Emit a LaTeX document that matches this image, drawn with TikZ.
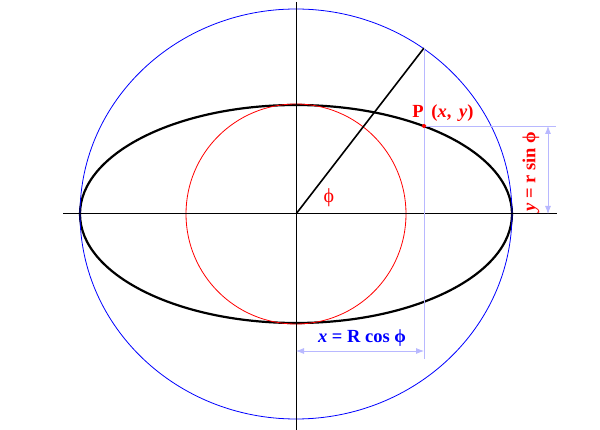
\documentclass[tikz,border=0pt]{standalone}
\usepackage{fontspec}
\setmainfont{Liberation Serif}
\usetikzlibrary{arrows.meta}
\definecolor{guide}{RGB}{184,184,255}

\begin{document}
\begin{tikzpicture}[x=1pt, y=-1pt,
    axis/.style = {draw, line width=1pt},
    guide/.style = {draw=guide, line width=0.8pt},
    dim/.style = {guide, {Latex[length=8pt,width=6pt]}-{Latex[length=8pt,width=6pt]}},
    lbl/.style = {font=\bfseries\fontsize{18.5}{18.5}\selectfont, inner sep=0pt}]
    \useasboundingbox (0,0) rectangle (600,430);
    % points
    \coordinate (O) at (296,214);
    \coordinate (L) at (63,214);
    \coordinate (R) at (557,214);
    \coordinate (T) at (296,2);
    \coordinate (B) at (296,430);
    \coordinate (A) at (424,48);
    \coordinate (P) at (424,126);
    \coordinate (F) at (424,359);
    \coordinate (E) at (556,126);
    \coordinate (X1) at (296,351);
    \coordinate (X2) at (424,351);
    \coordinate (Y1) at (548,126);
    \coordinate (Y2) at (548,214);
    % curves
    \draw[line width=2.2pt] (O) ellipse [x radius=216pt, y radius=109pt];
    \draw[blue, line width=0.8pt] (O) ellipse [x radius=216pt, y radius=205pt];
    \draw[red, line width=0.8pt] (O) circle [radius=110pt];
    \draw[axis] (L) -- (R);
    \draw[axis] (T) -- (B);
    \draw[line width=1.6pt] (O) -- (A);
    \draw[guide] (A) -- (F);
    \draw[guide] (P) -- (E);
    \draw[dim] (X1) -- (X2);
    \draw[dim] (Y1) -- (Y2);
    \fill[red] (P) circle [radius=2pt];
    % labels
    \node[lbl, red] (pl) at (443,113) {P\, (\textit{x}, \,\textit{y})};
    \node[lbl, blue] (xl) at (362,338) {\textit{x} = R cos ϕ};
    \node[lbl, red, rotate=90] (yl) at (531,172) {\textit{y} = r sin ϕ};
    \node[red, font=\fontsize{20}{20}\selectfont] (phi) at (329,198) {ϕ};
\end{tikzpicture}
\end{document}
